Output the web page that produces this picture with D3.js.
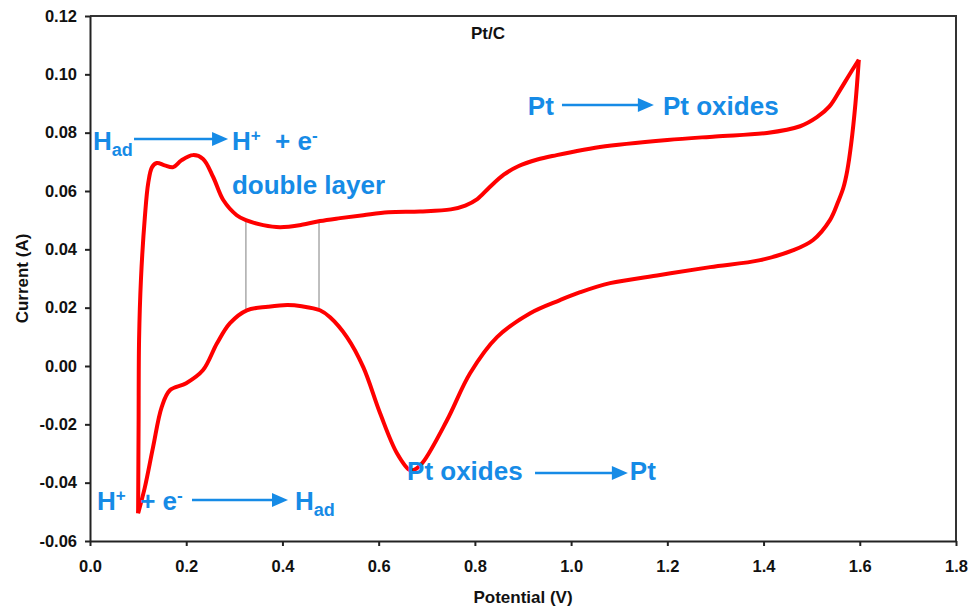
<!DOCTYPE html>
<html>
<head>
<meta charset="utf-8">
<script src="https://cdn.jsdelivr.net/npm/d3@7"></script>
<style>
  body { margin: 0; background: #fff; }
  svg { display: block; font-family: "Liberation Sans", Arial, sans-serif; font-weight: bold; }
  .axis path, .axis line { stroke: #222; stroke-width: 2px; }
  .axis text { font-size: 16.5px; font-weight: bold; fill: #111; font-family: "Liberation Sans", Arial, sans-serif; }
  .note { fill: #168be6; font-size: 26px; font-weight: bold; }
</style>
</head>
<body>
<div id="chart"></div>
<script>
// anodic sweep (potential V, current A)
const forwardScan = [
  [0.100, -0.0505], [0.101, -0.020], [0.102, 0.009], [0.106, 0.030], [0.114, 0.051],
  [0.121, 0.0627], [0.129, 0.0682], [0.139, 0.0696], [0.155, 0.0688], [0.173, 0.0682],
  [0.190, 0.0705], [0.214, 0.0723], [0.235, 0.0710], [0.256, 0.0648], [0.277, 0.0569],
  [0.305, 0.0517], [0.324, 0.0500], [0.360, 0.0483], [0.395, 0.0476], [0.440, 0.0484],
  [0.478, 0.0497], [0.520, 0.0507], [0.568, 0.0517], [0.620, 0.0527], [0.686, 0.0530],
  [0.750, 0.0537], [0.780, 0.0550], [0.805, 0.0572], [0.830, 0.0612], [0.860, 0.0656],
  [0.890, 0.0685], [0.930, 0.0708], [0.970, 0.0723], [1.000, 0.0733], [1.060, 0.0751],
  [1.200, 0.0775], [1.300, 0.0787], [1.407, 0.0799], [1.476, 0.0822], [1.511, 0.0853],
  [1.537, 0.0890], [1.559, 0.0946], [1.580, 0.1003], [1.598, 0.1050]
];

// cathodic sweep
const reverseScan = [
  [1.598, 0.1050], [1.591, 0.0900], [1.582, 0.0760], [1.574, 0.0670], [1.566, 0.0612],
  [1.555, 0.0563], [1.538, 0.0500], [1.503, 0.0432], [1.462, 0.0397], [1.393, 0.0363],
  [1.289, 0.0339], [1.185, 0.0312], [1.081, 0.0284], [1.019, 0.0253], [0.977, 0.0226],
  [0.915, 0.0181], [0.846, 0.0099], [0.790, -0.0025], [0.742, -0.0186], [0.692, -0.0330],
  [0.675, -0.0355], [0.665, -0.0357], [0.638, -0.0299], [0.603, -0.0162], [0.568, -0.0004],
  [0.534, 0.0099], [0.499, 0.0167], [0.478, 0.0191], [0.440, 0.0205], [0.410, 0.0209],
  [0.370, 0.0203], [0.326, 0.0191], [0.291, 0.0147], [0.264, 0.0078], [0.235, -0.0014],
  [0.200, -0.0059], [0.166, -0.0083], [0.149, -0.0141], [0.131, -0.0279], [0.114, -0.0416],
  [0.100, -0.0505]
];

// double layer region markers
const doubleLayer = [
  { v: 0.324, top: 0.0500, bottom: 0.0190 },
  { v: 0.476, top: 0.0497, bottom: 0.0192 }
];

const xTicks = [0.0, 0.2, 0.4, 0.6, 0.8, 1.0, 1.2, 1.4, 1.6, 1.8];
const yTicks = [-0.06, -0.04, -0.02, 0.00, 0.02, 0.04, 0.06, 0.08, 0.10, 0.12];

// reaction arrows: from/to in data units
const arrows = [
  { x1: 0.0915, x2: 0.287, y: 0.0778 },
  { x1: 0.981, x2: 1.172, y: 0.0895 },
  { x1: 0.925, x2: 1.118, y: -0.0367 },
  { x1: 0.212, x2: 0.4115, y: -0.0459 }
];

const width = 973, height = 609;
const margin = { top: 16, right: 17, bottom: 68, left: 90 };

const svg = d3.select("#chart").append("svg")
    .attr("width", width)
    .attr("height", height);

const x = d3.scaleLinear().domain([0, 1.8]).range([margin.left, width - margin.right]);
const y = d3.scaleLinear().domain([-0.06, 0.12]).range([height - margin.bottom, margin.top]);

// frame top/right
svg.append("path")
    .attr("d", `M${x(0)},${y(0.12)} H${x(1.8)} V${y(-0.06)}`)
    .attr("fill", "none")
    .attr("stroke", "#333")
    .attr("stroke-width", 2);

const xAxis = svg.append("g")
    .attr("class", "axis")
    .attr("transform", `translate(0,${y(-0.06)})`)
    .call(d3.axisBottom(x).tickValues(xTicks).tickFormat(d => d.toFixed(1)).tickSize(5).tickSizeOuter(0).tickPadding(14));

const yAxis = svg.append("g")
    .attr("class", "axis")
    .attr("transform", `translate(${x(0)},0)`)
    .call(d3.axisLeft(y).tickValues(yTicks).tickFormat(d => d.toFixed(2)).tickSize(5).tickSizeOuter(0).tickPadding(8));

// axis titles
svg.append("text")
    .attr("x", (x(0) + x(1.8)) / 2)
    .attr("y", 603)
    .attr("text-anchor", "middle")
    .style("font-size", "17px")
    .attr("fill", "#111")
    .text("Potential (V)");

svg.append("text")
    .attr("transform", `translate(28,${(y(0.12) + y(-0.06)) / 2}) rotate(-90)`)
    .attr("text-anchor", "middle")
    .style("font-size", "17px")
    .attr("fill", "#111")
    .text("Current (A)");

svg.append("text")
    .attr("x", 488)
    .attr("y", 39)
    .attr("text-anchor", "middle")
    .style("font-size", "17px")
    .attr("fill", "#111")
    .text("Pt/C");

// double layer verticals
svg.selectAll("line.dl")
    .data(doubleLayer)
    .enter().append("line")
    .attr("class", "dl")
    .attr("x1", d => x(d.v)).attr("x2", d => x(d.v))
    .attr("y1", d => y(d.top)).attr("y2", d => y(d.bottom))
    .attr("stroke", "#aaa")
    .attr("stroke-width", 1.5);

// CV curve
const line = d3.line()
    .x(d => x(d[0]))
    .y(d => y(d[1]))
    .curve(d3.curveCatmullRom.alpha(0.5));

svg.append("path")
    .datum(forwardScan)
    .attr("d", line)
    .attr("fill", "none")
    .attr("stroke", "#ff0000")
    .attr("stroke-width", 4)
    .attr("stroke-linejoin", "round");

svg.append("path")
    .datum(reverseScan)
    .attr("d", line)
    .attr("fill", "none")
    .attr("stroke", "#ff0000")
    .attr("stroke-width", 4)
    .attr("stroke-linejoin", "round");

// arrows
const blue = "#168be6";
const arrowG = svg.selectAll("g.arrow")
    .data(arrows)
    .enter().append("g")
    .attr("class", "arrow");

arrowG.append("line")
    .attr("x1", d => x(d.x1))
    .attr("x2", d => x(d.x2) - 14)
    .attr("y1", d => y(d.y)).attr("y2", d => y(d.y))
    .attr("stroke", blue)
    .attr("stroke-width", 2.5);

arrowG.append("path")
    .attr("d", d => {
        const ex = x(d.x2), ey = y(d.y);
        return `M${ex},${ey} L${ex - 16},${ey - 7} L${ex - 16},${ey + 7} Z`;
    })
    .attr("fill", blue);

// labels with sub/superscripts
function label(v, i, parts) {
    const t = svg.append("text")
        .attr("class", "note")
        .attr("x", x(v))
        .attr("y", y(i));
    parts.forEach(p => {
        const s = t.append("tspan").text(p.t);
        if (p.sub) s.attr("dy", 6).style("font-size", "18px");
        if (p.sup) s.attr("dy", -9).style("font-size", "17px");
        if (p.back) s.attr("dy", p.back);
    });
    return t;
}

label(0.006, 0.074, [{ t: "H" }, { t: "ad", sub: true }]);
label(0.295, 0.074, [{ t: "H" }, { t: "+", sup: true }, { t: "\u00a0\u00a0+ e", back: 9 }, { t: "-", sup: true }]);
label(0.295, 0.059, [{ t: "double layer" }]);
label(0.910, 0.086, [{ t: "Pt" }]);
label(1.191, 0.086, [{ t: "Pt oxides" }]);
label(0.659, -0.039, [{ t: "Pt oxides" }]);
label(1.122, -0.039, [{ t: "Pt" }]);
label(0.0145, -0.0494, [{ t: "H" }, { t: "+", sup: true }, { t: "\u00a0\u00a0+ e", back: 9 }, { t: "-", sup: true }]);
label(0.426, -0.0494, [{ t: "H" }, { t: "ad", sub: true }]);
</script>
</body>
</html>
